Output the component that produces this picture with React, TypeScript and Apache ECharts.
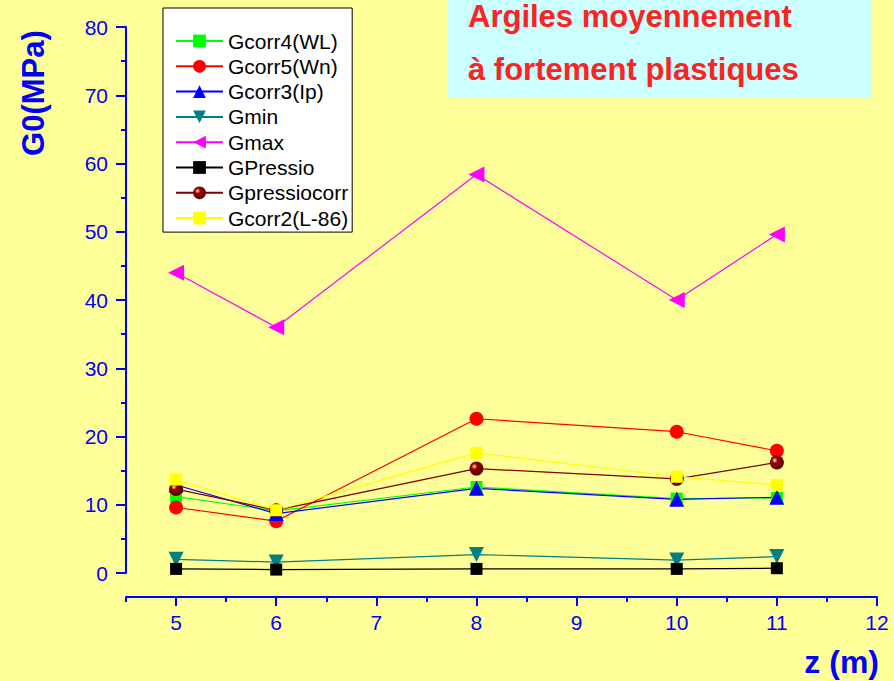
import React, { useEffect, useRef } from "react";
import * as echarts from "echarts";

const depths = [5, 6, 8, 10, 11];
const gcorr4 = [11.2, 9.1, 12.6, 10.9, 11.0];
const gcorr5 = [9.6, 7.6, 22.6, 20.7, 17.9];
const gcorr3 = [12.9, 8.7, 12.4, 10.8, 11.1];
const gmin = [2.0, 1.6, 2.7, 1.9, 2.4];
const gmax = [44.0, 36.0, 58.4, 40.0, 49.6];
const gpressio = [0.6, 0.5, 0.6, 0.6, 0.7];
const gpressiocorr = [12.3, 9.2, 15.3, 13.8, 16.2];
const gcorr2 = [13.7, 9.2, 17.6, 14.1, 12.9];

const xMajorTicks = [5, 6, 7, 8, 9, 10, 11, 12];
const xMinorTicks = [4.5, 5.5, 6.5, 7.5, 8.5, 9.5, 10.5, 11.5];
const titleLines = ["Argiles moyennement", "à fortement plastiques"];

const FONT = "Arial, 'Liberation Sans', sans-serif";
const BLUE = "#0000ff";

const pts = (vals: number[]) => depths.map((d, i) => [d, vals[i]]);

export default function App() {
  const ref = useRef<HTMLDivElement>(null);
  useEffect(() => {
    if (!ref.current) return;
    const chart = echarts.init(ref.current, null, { renderer: "svg" });
    const mk = (
      name: string,
      vals: number[],
      color: string,
      symbol: string,
      size: number,
      extra: any = {}
    ) => ({
      name,
      type: "line",
      xAxisIndex: 0,
      data: pts(vals),
      symbol,
      symbolSize: size,
      showSymbol: true,
      lineStyle: { color, width: 1.2 },
      itemStyle: { color, borderWidth: 0 },
      ...extra,
    });
    chart.setOption({
      animation: false,
      backgroundColor: "#ffff99",
      textStyle: { fontFamily: FONT },
      grid: { left: 126, right: 17, top: 27, bottom: 108, containLabel: false },
      legend: {
        orient: "vertical",
        left: 163,
        top: 8,
        backgroundColor: "#ffffff",
        borderColor: "#000000",
        borderWidth: 1,
        padding: [21, 4, 2, 12],
        itemWidth: 47,
        itemHeight: 16,
        itemGap: 1.3,
        textStyle: { fontSize: 21, lineHeight: 24, color: "#000", fontFamily: FONT },
      },
      xAxis: [
        {
          type: "value",
          min: 4.5,
          max: 12,
          position: "bottom",
          offset: 24,
          axisLine: { show: true, onZero: false, lineStyle: { color: BLUE, width: 2 } },
          axisTick: {
            show: true,
            customValues: xMajorTicks,
            length: 9,
            lineStyle: { color: BLUE, width: 2 },
          },
          axisLabel: {
            customValues: xMajorTicks,
            color: BLUE,
            fontSize: 21,
            margin: 15,
            fontFamily: FONT,
          },
          splitLine: { show: false },
        },
        {
          type: "value",
          min: 4.5,
          max: 12,
          position: "bottom",
          offset: 24,
          axisLine: { show: false, onZero: false },
          axisTick: {
            show: true,
            customValues: xMinorTicks,
            length: 5,
            lineStyle: { color: BLUE, width: 2 },
          },
          axisLabel: { show: false },
          splitLine: { show: false },
        },
      ],
      yAxis: {
        type: "value",
        min: 0,
        max: 80,
        interval: 10,
        axisLine: { show: true, onZero: false, lineStyle: { color: BLUE, width: 2 } },
        axisTick: { show: true, length: 10, lineStyle: { color: BLUE, width: 2 } },
        minorTick: { show: true, splitNumber: 2, length: 5, lineStyle: { color: BLUE, width: 2 } },
        axisLabel: { color: BLUE, fontSize: 21, margin: 18, fontFamily: FONT },
        splitLine: { show: false },
      },
      graphic: [
        {
          type: "rect",
          shape: { x: 447, y: 0, width: 425, height: 98 },
          style: { fill: "#ccffff" },
          z: 0,
        },
        {
          type: "text",
          x: 468,
          y: 16,
          style: {
            text: titleLines[0],
            fill: "#ff2222",
            font: `bold 31px ${FONT}`,
            textAlign: "left",
            textVerticalAlign: "middle",
          },
        },
        {
          type: "text",
          x: 468,
          y: 69,
          style: {
            text: titleLines[1],
            fill: "#ff2222",
            font: `bold 31px ${FONT}`,
            textAlign: "left",
            textVerticalAlign: "middle",
          },
        },
        {
          type: "text",
          x: 33,
          y: 93,
          rotation: Math.PI / 2,
          style: {
            text: "G0(MPa)",
            fill: BLUE,
            font: `bold 31px ${FONT}`,
            textAlign: "center",
            textVerticalAlign: "middle",
          },
        },
        {
          type: "text",
          x: 879,
          y: 662,
          style: {
            text: "z (m)",
            fill: BLUE,
            font: `bold 32px ${FONT}`,
            textAlign: "right",
            textVerticalAlign: "middle",
          },
        },
      ],
      series: [
        mk("Gcorr4(WL)", gcorr4, "#00ff00", "rect", 12),
        mk("Gcorr5(Wn)", gcorr5, "#ff0000", "circle", 14),
        mk("Gcorr3(Ip)", gcorr3, "#0000ff", "triangle", 15),
        mk("Gmin", gmin, "#008080", "triangle", 15, { symbolRotate: 180 }),
        mk("Gmax", gmax, "#ff00ff", "triangle", 16, { symbolRotate: 90 }),
        mk("GPressio", gpressio, "#000000", "rect", 12),
        mk("Gpressiocorr", gpressiocorr, "#800000", "circle", 14, {
          itemStyle: {
            color: {
              type: "radial",
              x: 0.35,
              y: 0.35,
              r: 0.7,
              colorStops: [
                { offset: 0, color: "#ffdddd" },
                { offset: 0.3, color: "#990000" },
                { offset: 1, color: "#500000" },
              ],
            },
            borderWidth: 0,
          },
        }),
        mk("Gcorr2(L-86)", gcorr2, "#ffff00", "rect", 12),
      ],
    });
    return () => chart.dispose();
  }, []);
  return (
    <div
      ref={ref}
      style={{ position: "fixed", left: 0, top: 0, width: 894, height: 681 }}
    />
  );
}
